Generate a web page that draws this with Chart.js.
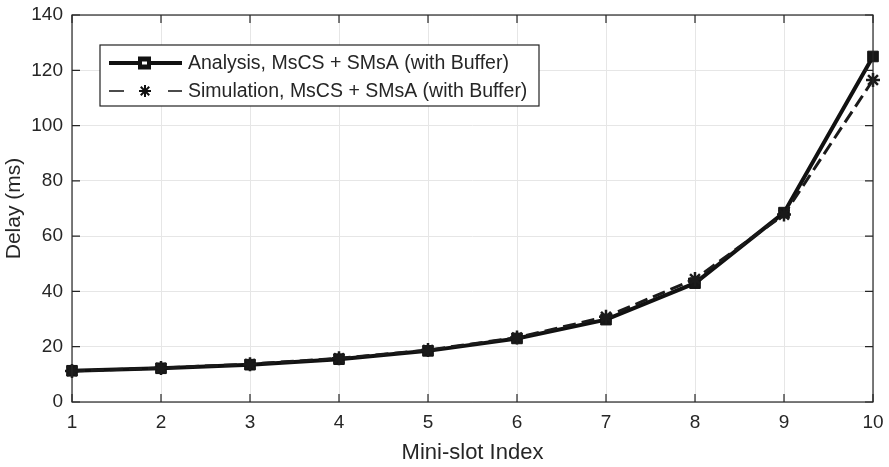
<!DOCTYPE html>
<html>
<head>
<meta charset="utf-8">
<script src="https://cdn.jsdelivr.net/npm/chart.js@4"></script>
<style>
  html, body { margin: 0; padding: 0; background: #fff; }
  #wrap { width: 889px; height: 467px; }
</style>
</head>
<body>
<div id="wrap"><canvas id="c" width="889" height="467"></canvas></div>
<script>
// mini-slot index and delays
const slotIndex = [1, 2, 3, 4, 5, 6, 7, 8, 9, 10];
const analysisDelay = [11.3, 12.2, 13.5, 15.5, 18.5, 23, 29.8, 43, 68.5, 125];
const simulationDelay = [11.2, 12.3, 13.7, 15.8, 18.8, 23.3, 30.8, 44.5, 67.8, 116.5];
const yTicks = [0, 20, 40, 60, 80, 100, 120, 140];
const legendLabels = ['Analysis, MsCS + SMsA (with Buffer)', 'Simulation, MsCS + SMsA (with Buffer)'];

const FONT = 'Liberation Sans, Arial, Helvetica, sans-serif';
const INK = '#262626';

function pts(ys) { return slotIndex.map((x, i) => ({ x, y: ys[i] })); }

// MATLAB-like frame with inward ticks
const framePlugin = {
  id: 'frame',
  afterDraw(chart) {
    const { ctx, chartArea: a, scales } = chart;
    ctx.save();
    ctx.strokeStyle = INK;
    ctx.lineWidth = 1.2;
    ctx.strokeRect(a.left, a.top, a.right - a.left, a.bottom - a.top);
    const len = 8;
    ctx.beginPath();
    slotIndex.forEach(v => {
      const px = scales.x.getPixelForValue(v);
      ctx.moveTo(px, a.bottom); ctx.lineTo(px, a.bottom - len);
      ctx.moveTo(px, a.top); ctx.lineTo(px, a.top + len);
    });
    yTicks.forEach(v => {
      const py = scales.y.getPixelForValue(v);
      ctx.moveTo(a.left, py); ctx.lineTo(a.left + len, py);
      ctx.moveTo(a.right, py); ctx.lineTo(a.right - len, py);
    });
    ctx.stroke();

    // legend box
    const lx = 100, ly = 45, lw = 439, lh = 61;
    ctx.fillStyle = '#fff';
    ctx.fillRect(lx, ly, lw, lh);
    ctx.strokeStyle = '#222';
    ctx.lineWidth = 1.2;
    ctx.strokeRect(lx, ly, lw, lh);
    const rows = [63, 91];
    // row 1: thick solid + square
    ctx.strokeStyle = '#111';
    ctx.lineWidth = 4;
    ctx.setLineDash([]);
    ctx.beginPath(); ctx.moveTo(109, rows[0]); ctx.lineTo(182, rows[0]); ctx.stroke();
    ctx.fillStyle = '#111';
    ctx.fillRect(138, rows[0] - 6.5, 13, 13);
    ctx.fillStyle = '#fff';
    ctx.fillRect(142, rows[0] - 1.5, 5, 3);
    // row 2: thin dashes + asterisk
    ctx.lineWidth = 1.3;
    ctx.beginPath();
    ctx.moveTo(109, rows[1]); ctx.lineTo(124, rows[1]);
    ctx.moveTo(168, rows[1]); ctx.lineTo(182, rows[1]);
    ctx.stroke();
    ctx.lineWidth = 2;
    const cx = 145, cy = rows[1], r = 6;
    ctx.beginPath();
    for (let k = 0; k < 4; k++) {
      const ang = k * Math.PI / 4;
      ctx.moveTo(cx - r * Math.cos(ang), cy - r * Math.sin(ang));
      ctx.lineTo(cx + r * Math.cos(ang), cy + r * Math.sin(ang));
    }
    ctx.stroke();
    ctx.fillStyle = INK;
    ctx.font = '19.5px ' + FONT;
    ctx.textBaseline = 'middle';
    ctx.textAlign = 'left';
    ctx.fillText(legendLabels[0], 188, rows[0] + 1);
    ctx.fillText(legendLabels[1], 188, rows[1] + 1);
    ctx.restore();
  }
};

new Chart(document.getElementById('c'), {
  type: 'line',
  data: {
    datasets: [
      {
        label: legendLabels[1],
        data: pts(simulationDelay),
        borderColor: '#1a1a1a',
        backgroundColor: '#1a1a1a',
        borderWidth: 3,
        borderDash: [13, 6],
        pointStyle: 'star',
        pointRadius: 7,
        pointBorderWidth: 2.5,
        tension: 0,
        clip: false
      },
      {
        label: legendLabels[0],
        data: pts(analysisDelay),
        borderColor: '#111',
        backgroundColor: '#161616',
        borderWidth: 4,
        pointStyle: 'rect',
        pointRadius: 7.5,
        pointBorderWidth: 1,
        tension: 0,
        clip: false
      }
    ]
  },
  options: {
    responsive: false,
    animation: false,
    layout: { padding: { top: 15, right: 16, left: 0, bottom: 0 } },
    plugins: { legend: { display: false }, tooltip: { enabled: false } },
    scales: {
      x: {
        type: 'linear', min: 1, max: 10,
        afterFit(s) { s.height = 65; s.paddingLeft = 0; s.paddingRight = 0; },
        afterBuildTicks(s) { s.ticks = slotIndex.map(v => ({ value: v })); },
        grid: { color: '#e6e6e6', drawTicks: false },
        border: { display: false },
        ticks: { color: INK, font: { family: FONT, size: 19 }, padding: 9, maxRotation: 0 },
        title: { display: true, text: 'Mini-slot Index', color: INK, font: { family: FONT, size: 22 }, padding: { top: 2, bottom: 1 } }
      },
      y: {
        min: 0, max: 140,
        afterFit(s) { s.width = 72; s.paddingTop = 0; s.paddingBottom = 0; },
        afterBuildTicks(s) { s.ticks = yTicks.map(v => ({ value: v })); },
        grid: { color: '#e6e6e6', drawTicks: false },
        border: { display: false },
        ticks: { color: INK, font: { family: FONT, size: 19 }, padding: 9 },
        title: { display: true, text: 'Delay (ms)', color: INK, font: { family: FONT, size: 21 }, padding: { top: 2, bottom: 0 } }
      }
    }
  },
  plugins: [framePlugin]
});
</script>
</body>
</html>
